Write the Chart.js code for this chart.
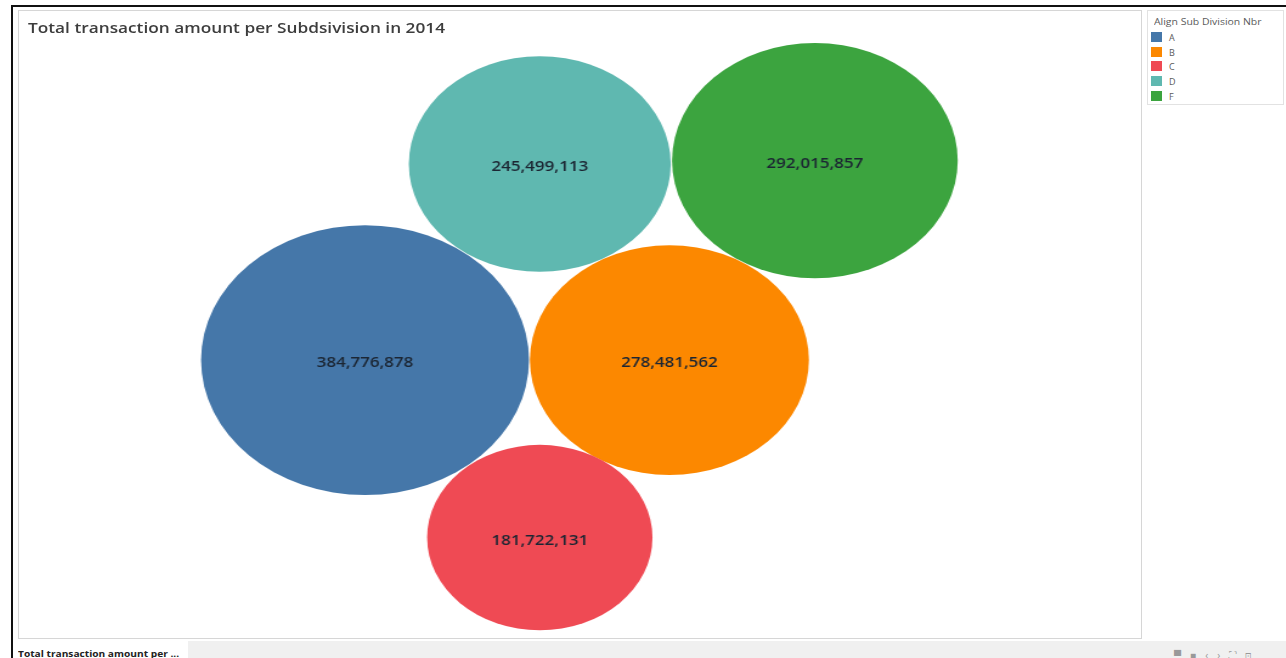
<!DOCTYPE html>
<html>
<head>
<meta charset="utf-8">
<script src="https://cdn.jsdelivr.net/npm/chart.js@4"></script>
<style>
  body { margin: 0; background: #fff; font-family: "Open Sans", Lato, sans-serif; }
  #page { position: relative; width: 1286px; height: 658px; overflow: hidden; background: #fff; }
  #frameTop { position: absolute; left: 12px; top: 5px; width: 1274px; height: 2px; background: #111; }
  #frameLeft { position: absolute; left: 11px; top: 5px; width: 2px; height: 653px; background: #111; }
  #pane { position: absolute; left: 18px; top: 10px; width: 1122px; height: 627px; border: 1px solid #d6d6d6; }
  #title { position: absolute; left: 28px; top: 17px; font-size: 15px; font-weight: 600; color: #3d3d3d; transform: scaleX(1.15); transform-origin: 0 0; white-space: nowrap; }
  #chartWrap { position: absolute; left: 18px; top: 10px; width: 924px; height: 628px; transform-origin: 0 0; }
  #legend { position: absolute; left: 1147px; top: 10px; width: 135px; height: 93px; border: 1px solid #e2e2e2; font-size: 9px; color: #5a5a5a; }
  #legend .hd { position: absolute; left: 6px; top: 4px; transform: scaleX(1.16); transform-origin: 0 0; white-space: nowrap; }
  #legend .it { position: absolute; left: 3px; height: 11px; line-height: 11px; }
  #legend .sw { display: inline-block; width: 11px; height: 10px; vertical-align: top; margin-right: 7px; }
  #tabbar { position: absolute; left: 13px; top: 641px; width: 1273px; height: 17px; background: #f0f0f0; }
  #tab { position: absolute; left: 13px; top: 641px; width: 175px; height: 17px; background: #fff; font-size: 9.5px; font-weight: 700; color: #222; }
  #tab span { position: absolute; left: 5px; top: 6px; transform: scaleX(1.07); transform-origin: 0 0; white-space: nowrap; }
  #icons { position: absolute; left: 1174px; top: 648px; font-size: 10px; color: #999; letter-spacing: 9px; }
</style>
</head>
<body>
<div id="page">
  <div id="frameTop"></div>
  <div id="frameLeft"></div>
  <div id="pane"></div>
  <div id="chartWrap"><canvas id="bubbles" width="924" height="628"></canvas></div>
  <div id="title">Total transaction amount per Subdsivision in 2014</div>
  <div id="legend"><div class="hd">Align Sub Division Nbr</div></div>
  <div id="tabbar"></div>
  <div id="tab"><span>Total transaction amount per ...</span></div>
  <div id="icons">▀■‹›⛶⊡</div>
</div>
<script>
// sub divisions and their 2014 totals
const subDivisions = ["A", "B", "C", "D", "F"];
const totals = [384776878, 278481562, 181722131, 245499113, 292015857];
const colours = ["#4577a9", "#fc8800", "#ef4a54", "#5fb8b0", "#3ca43f"];

// packed layout found by the bubble packing (in radius units, sqrt of millions)
const packX = [41.5, 77.9, 62.4, 62.4, 95.3];
const packY = [50.9, 50.9, 76.7, 22.4, 21.9];
const yMax = 91.3;
const xMax = 134.3;

const stretch = 1123 / 924;
document.getElementById("chartWrap").style.transform = "scale(" + stretch + ",1)";

// legend
const legend = document.getElementById("legend");
subDivisions.forEach(function (s, i) {
  const row = document.createElement("div");
  row.className = "it";
  row.style.top = (21 + i * 14.7) + "px";
  row.innerHTML = '<span class="sw" style="background:' + colours[i] + '"></span>' + s;
  legend.appendChild(row);
});

const valueLabels = {
  id: "valueLabels",
  afterDatasetsDraw(chart) {
    const ctx = chart.ctx;
    const meta = chart.getDatasetMeta(0);
    ctx.save();
    ctx.font = "600 14px 'Open Sans', Lato, sans-serif";
    ctx.fillStyle = "#1c2633";
    ctx.textAlign = "center";
    ctx.textBaseline = "middle";
    meta.data.forEach(function (el, i) {
      ctx.fillText(totals[i].toLocaleString("en-US"), el.x, el.y + 3);
    });
    ctx.restore();
  }
};

new Chart(document.getElementById("bubbles"), {
  type: "bubble",
  data: {
    labels: subDivisions,
    datasets: [{
      label: "Total transaction amount",
      data: subDivisions.map(function (s, i) { return { x: packX[i], y: packY[i] }; }),
      backgroundColor: colours,
      borderWidth: 0,
      // bubble area proportional to the total
      radius: function (c) {
        return c.chart.height / yMax * Math.sqrt(totals[c.dataIndex] / 1e6);
      },
      clip: false
    }]
  },
  options: {
    responsive: false,
    animation: false,
    devicePixelRatio: 1,
    events: [],
    layout: { padding: 0, autoPadding: false },
    scales: {
      x: { type: "linear", min: 0, max: xMax, display: false },
      y: { type: "linear", min: 0, max: yMax, reverse: true, display: false }
    },
    plugins: {
      legend: { display: false },
      tooltip: { enabled: false }
    }
  },
  plugins: [valueLabels]
});
</script>
</body>
</html>
